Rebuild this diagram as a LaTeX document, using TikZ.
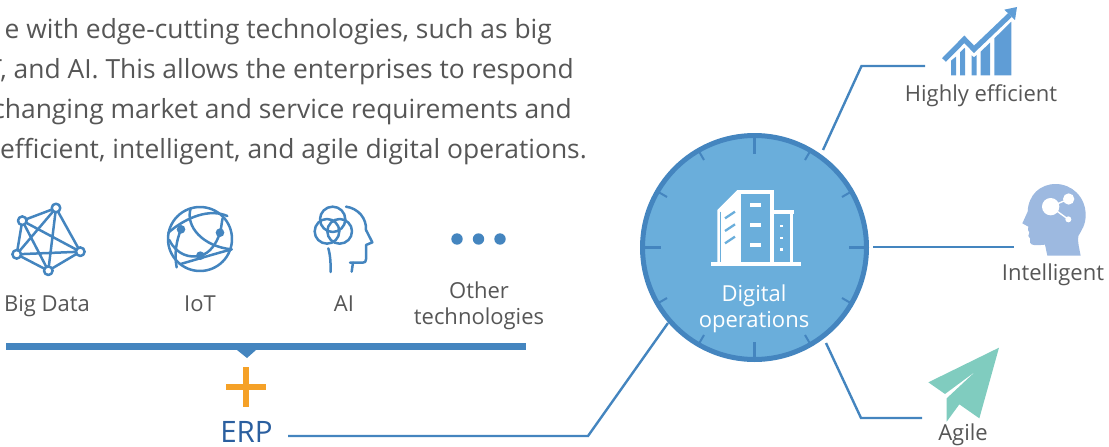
\documentclass[tikz,border=0pt]{standalone}
\usepackage{fontspec}
\setmainfont{Open Sans}
\definecolor{bluemain}{HTML}{4485BF}
\definecolor{discfill}{HTML}{6AAEDB}
\definecolor{txtgray}{HTML}{565656}
\definecolor{chartblue}{HTML}{5F9DD6}
\definecolor{headblue}{HTML}{9DB9E0}
\definecolor{planegreen}{HTML}{80CCBF}
\definecolor{plusorange}{HTML}{F5A127}
\definecolor{erpblue}{HTML}{2B5F9F}
\tikzset{
  lead/.style={draw=bluemain,line width=2.4pt},
  icon/.style={draw=bluemain,line width=2.5pt,line cap=round,line join=round},
  para/.style={inner sep=0pt,anchor=base east,text=txtgray,font=\fontsize{26.4}{30}\selectfont},
  lab/.style={inner sep=0pt,anchor=base,text=txtgray,font=\fontsize{22}{26}\selectfont},
  whitelab/.style={inner sep=0pt,anchor=base,text=white,font=\fontsize{22}{26}\selectfont},
}
\begin{document}
\begin{tikzpicture}[x=1pt,y=-1pt]
\useasboundingbox (0,0) rectangle (1109,447);
% paragraph
\node[para] (p1) at (552,38) {e with edge-cutting technologies, such as big};
\node[para] (p2) at (574,78) {T, and AI. This allows the enterprises to respond};
\node[para] (p3) at (572,118) {changing market and service requirements and};
\node[para] (p4) at (587,158) {efficient, intelligent, and agile digital operations.};
% big data icon
\foreach \n/\x/\y in {a/56/208,b/22.3/220.7,c/16.7/254.3,d/48.3/270.7,e/80.3/251.7}{
  \coordinate (\n) at (\x,\y);
}
\draw[icon] (a)--(b) (a)--(c) (a)--(d) (a)--(e) (b)--(c) (b)--(d) (b)--(e) (c)--(d) (c)--(e) (d)--(e);
\foreach \n in {a,b,c,d,e}{
  \draw[icon,fill=white] (\n) circle[radius=4.3];
}
% IoT icon
\begin{scope}[shift={(0,190)},scale=1/3]
\draw[icon] (600,147) circle[radius=96];
\draw[icon] (572,55) .. controls (555,110) and (610,170) .. (695,178);
\draw[icon] (505,128) .. controls (560,80) and (630,55) .. (682,78);
\draw[icon] (508,150) .. controls (530,195) and (570,205) .. (601,197) .. controls (630,190) and (650,160) .. (660,128) .. controls (665,110) and (665,95) .. (668,85);
\draw[icon] (542,222) .. controls (600,205) and (650,190) .. (695,178);
\draw[icon] (543,118) .. controls (530,150) and (522,190) .. (530,232);
\fill[bluemain] (543,118) circle[radius=13] (660,128) circle[radius=13] (601,197) circle[radius=13];
\end{scope}
% AI icon
\begin{scope}[shift={(290,190)},scale=1/3]
\draw[icon] (128,88) circle[radius=38];
\draw[icon] (111,124) circle[radius=37];
\draw[icon] (149,124) circle[radius=37];
\draw[icon] (168,50) .. controls (205,55) and (230,85) .. (228,120) -- (247,157) -- (228,165) -- (228,208) .. controls (228,215) and (225,218) .. (218,218) -- (180,218);
\draw[icon] (189,218) -- (185,245);
\draw[icon] (115,175) .. controls (122,200) and (122,225) .. (122,246);
\end{scope}
% dots
\fill[bluemain] (457,239) circle[radius=5.7] (478.5,239) circle[radius=5.7] (500,239) circle[radius=5.7];
% labels
\node[lab] (bd) at (47,311) {Big Data};
\node[lab] (iot) at (200,311) {IoT};
\node[lab] (ai) at (344,311) {AI};
\node[lab] (ot1) at (479,298) {Other};
\node[lab] (ot2) at (479,324) {technologies};
% bar
\fill[bluemain] (6,343) rectangle (526,350);
\fill[bluemain] (237,350) -- (247,358) -- (256,350) -- cycle;
% plus
\fill[plusorange] (226,384) rectangle (266,390);
\fill[plusorange] (243,367) rectangle (249,407);
% ERP
\node[inner sep=0pt,anchor=base,text=erpblue,font=\fontsize{29.5}{30}\selectfont] (erp) at (246.5,442) {ERP};
% disc
\node[circle,draw=bluemain,fill=discfill,line width=5pt,minimum size=224pt,inner sep=0pt] (disc) at (754.5,247.5) {};
\foreach \a in {30,60,120,150,210,240,300,330}{
  \draw[bluemain,line width=2pt] (disc.center)+(\a:-112) -- +(\a:-101);
}
\foreach \a in {0,90,180,270}{
  \draw[bluemain,line width=2.5pt] (disc.center)+(\a:-112) -- +(\a:-94);
}
% building
\begin{scope}[shift={(630,150)},scale=1/3]
\fill[white] (243,337) rectangle (513,348);
\fill[white] (322,120) -- (262,180) -- (262,337) -- (322,337) -- cycle;
\draw[discfill,line width=0.7pt] (272,185) -- (272,337);
\fill[white] (322,120) rectangle (432,337);
\fill[discfill] (333,132) rectangle (421,337);
\fill[white] (432,180) rectangle (492,191);
\fill[white] (480,191) rectangle (490,337);
\fill[discfill] (432,191) rectangle (480,337);
\fill[white] (421,180) rectangle (432,337);
\foreach \y in {160,218,278}{
  \fill[white] (360,\y) rectangle (392,\y+12);
}
\foreach \y in {224,260,295}{
  \fill[white] (450,\y) rectangle (459,\y+7);
}
\foreach \y in {205,243,280}{
  \draw[discfill,line width=2.3pt] (285,\y) -- (315,\y-20);
}
\end{scope}
\node[whitelab] (dg1) at (754,301) {Digital};
\node[whitelab] (dg2) at (754,327) {operations};
% connectors
\coordinate (t0) at (823,150); \coordinate (t1) at (861.5,66); \coordinate (t2) at (925,66);
\coordinate (i0) at (873,247); \coordinate (i1) at (1014,247);
\coordinate (g0) at (826,343); \coordinate (g1) at (861,418); \coordinate (g2) at (922,418);
\coordinate (e0) at (288,436); \coordinate (e1) at (588,436); \coordinate (e2) at (668,323);
\draw[lead] (t0) -- (t1) -- (t2);
\draw[lead] (i0) -- (i1);
\draw[lead] (g0) -- (g1) -- (g2);
\draw[lead] (e0) -- (e1) -- (e2);
% chart icon
\begin{scope}[shift={(850,0)},scale=1/3]
\fill[chartblue] (303,226) -- (303,182) -- (318,170) -- (318,226) -- cycle;
\fill[chartblue] (330,226) -- (330,157) -- (343,144) -- (345,146) -- (345,226) -- cycle;
\fill[chartblue] (365,226) -- (365,166) -- (372,172) -- (380,165) -- (380,226) -- cycle;
\fill[chartblue] (392,226) -- (392,155) -- (420,128) -- (420,226) -- cycle;
\fill[chartblue] (433,226) -- (433,115) -- (484,65) -- (484,226) -- cycle;
\draw[chartblue,line width=5.3pt,line join=miter] (282,180) -- (343,118) -- (372,148) -- (480,45);
\fill[chartblue] (501,21) -- (463,29) -- (495,60) -- cycle;
\end{scope}
\node[lab] (he) at (981,101) {Highly efficient};
% head icon
\begin{scope}[shift={(990,170)},scale=1/3]
\fill[headblue] (272,257) .. controls (268,235) and (262,215) .. (265,198) .. controls (275,180) and (287,165) .. (287,135) .. controls (287,80) and (245,42) .. (197,42) .. controls (150,42) and (115,75) .. (113,125) -- (97,160) -- (115,170) -- (114,180) -- (118,188) -- (115,198) -- (120,205) -- (120,218) .. controls (125,228) and (140,226) .. (165,224) -- (172,257) -- cycle;
\fill[white] (182,110) circle[radius=26] (236,87) circle[radius=17] (235,148) circle[radius=9];
\draw[white,line width=1.4pt] (182,110) -- (236,87);
\draw[white,line width=1.4pt] (182,110) -- (235,148);
\end{scope}
\node[lab] (il) at (1053,280) {Intelligent};
% plane icon
\begin{scope}[shift={(900,335)},scale=1/3]
\fill[planegreen] (297,38) -- (85,142) -- (135,177) -- (228,108) -- (140,190) -- (140,260) -- (178,208) -- (238,250) -- cycle;
\end{scope}
\node[lab] (ag) at (963,440) {Agile};
\end{tikzpicture}
\end{document}
